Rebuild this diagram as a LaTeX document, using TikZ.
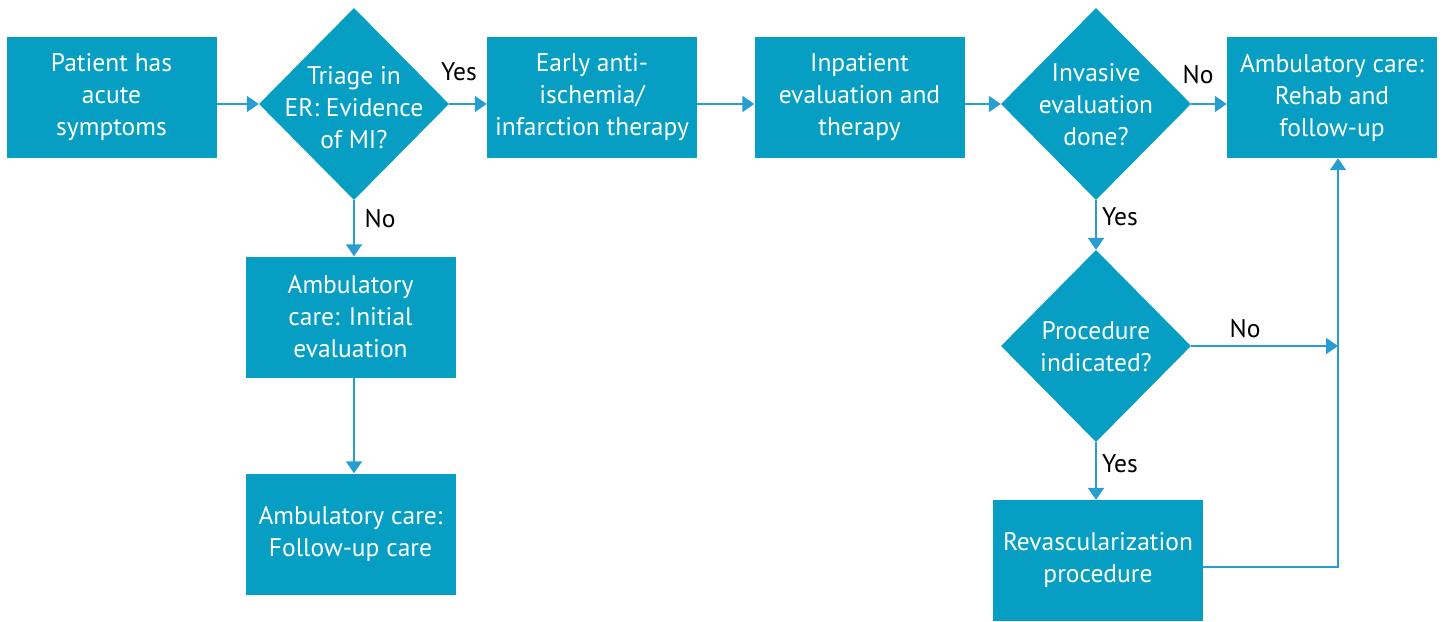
\documentclass[tikz,border=0pt]{standalone}
\usepackage{fontspec}
\setmainfont{PT Sans}
\usetikzlibrary{shapes.geometric,arrows.meta}
\definecolor{boxc}{RGB}{6,158,194}
\definecolor{linec}{RGB}{40,158,208}
\begin{document}
\begin{tikzpicture}[x=1pt,y=-1pt,
  box/.style={rectangle,fill=boxc,minimum width=210pt,minimum height=121pt,inner sep=0pt,text=white,align=center,font=\fontsize{25.5}{32}\selectfont},
  dia/.style={diamond,fill=boxc,minimum width=190pt,minimum height=192pt,inner sep=0pt},
  dtext/.style={text=white,align=center,inner sep=0pt,font=\fontsize{25.5}{32}\selectfont},
  lbl/.style={text=black,inner sep=0pt,font=\fontsize{25.5}{28}\selectfont},
  arr/.style={draw=linec,line width=2pt,-{Triangle[length=12pt,width=16pt]}},
  ln/.style={draw=linec,line width=2pt}]
\useasboundingbox (0,0) rectangle (1445,621);
% boxes
\node[box] (b1) at (111.5,97.5) {Patient has\\acute\\symptoms};
\node[box] (b3) at (592,97.5) {Early anti-\\ischemia/\\infarction therapy};
\node[box] (b4) at (859.5,97.5) {Inpatient\\evaluation and\\therapy};
\node[box] (b5) at (1332,97.5) {Ambulatory care:\\Rehab and\\follow-up};
\node[box] (b6) at (350.5,317) {Ambulatory\\care: Initial\\evaluation};
\node[box] (b7) at (350.5,534) {Ambulatory care:\\Follow-up care};
\node[box] (b8) at (1098,560.5) {Revascularization\\procedure};
% diamonds
\node[dia] (d1) at (354,104) {};
\node[dtext] (d1t) at (354,108) {Triage in\\ER: Evidence\\of MI?};
\node[dia] (d2) at (1096,104) {};
\node[dtext] (d2t) at (1096,105) {Invasive\\evaluation\\done?};
\node[dia] (d3) at (1096,346) {};
\node[dtext] (d3t) at (1096,347) {Procedure\\indicated?};
% junctions
\coordinate (j) at (1338,346);
\coordinate (c) at (1338,567);
% connectors
\draw[arr] (b1.east |- d1.west) -- (d1.west);
\draw[arr] (d1.east) -- (b3.west |- d1.east);
\draw[arr] (b3.east |- d1.east) -- (b4.west |- d1.east);
\draw[arr] (b4.east |- d2.west) -- (d2.west);
\draw[arr] (d2.east) -- (b5.west |- d2.east);
\draw[arr] (d1.south) -- (d1.south |- b6.north);
\draw[arr] (d1.south |- b6.south) -- (d1.south |- b7.north);
\draw[arr] (d2.south) -- (d3.north);
\draw[arr] (d3.south) -- (d3.south |- b8.north);
\draw[arr] (d3.east) -- (j);
\draw[arr] (b8.east |- c) -- (c) -- (c |- b5.south);
% labels
\node[lbl] (l1) at (459,72) {Yes};
\node[lbl] (l2) at (380,219) {No};
\node[lbl] (l3) at (1198,75) {No};
\node[lbl] (l4) at (1120,217) {Yes};
\node[lbl] (l5) at (1245,329) {No};
\node[lbl] (l6) at (1120,464) {Yes};
\end{tikzpicture}
\end{document}
